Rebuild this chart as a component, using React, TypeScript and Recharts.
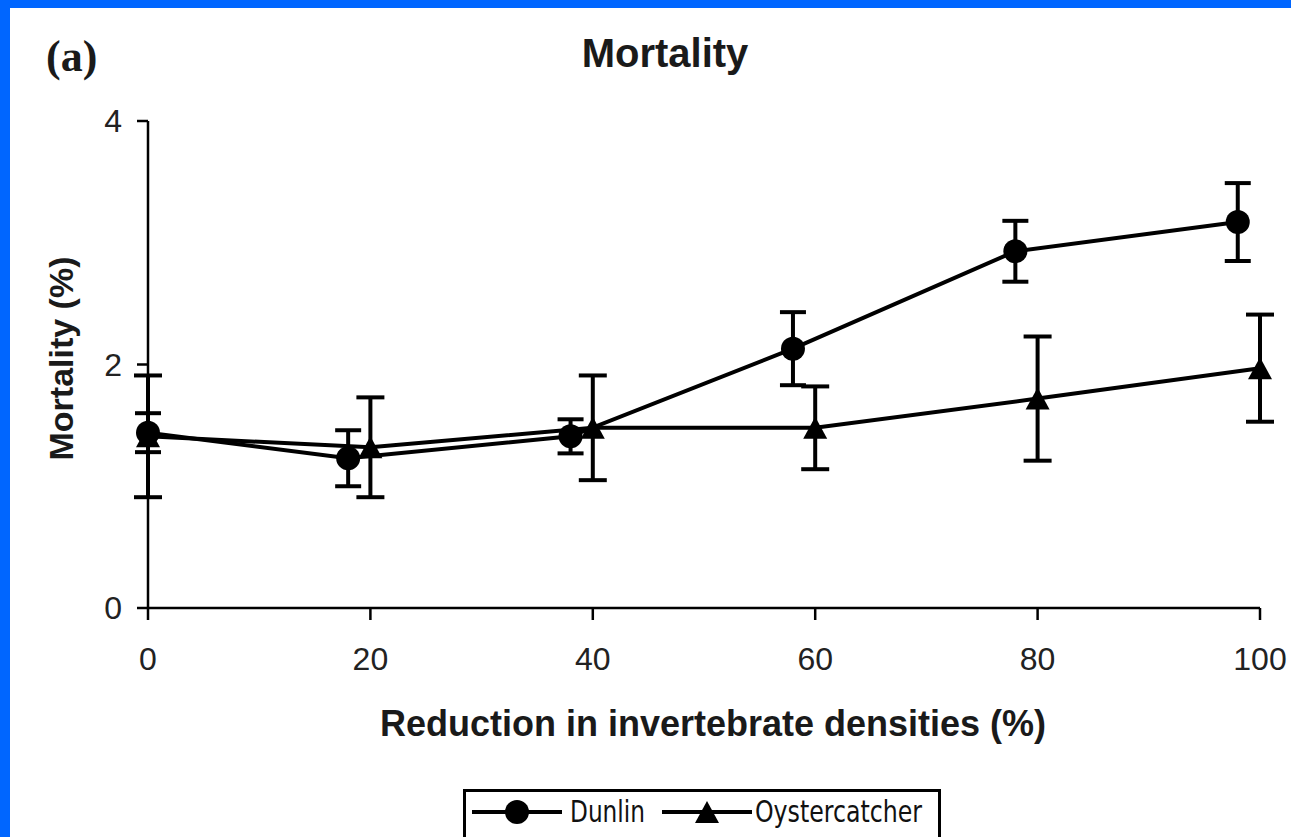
import React from 'react';
import { LineChart, Line, XAxis, YAxis, ErrorBar } from 'recharts';

const xTicks = [0, 20, 40, 60, 80, 100];
const yTicks = [0, 2, 4];

// Dunlin points sit slightly left of the round numbers in the original
const dunlinX = [0, 18, 38, 58, 78, 98];
const dunlinMortality = [1.44, 1.23, 1.41, 2.13, 2.93, 3.17];
const dunlinError = [0.16, 0.23, 0.14, 0.3, 0.25, 0.32];

const oysterX = [0, 20, 40, 60, 80, 100];
const oysterMortality = [1.41, 1.32, 1.48, 1.48, 1.72, 1.97];
const oysterError = [0.5, 0.41, 0.43, 0.34, 0.51, 0.44];

const dunlinData = dunlinX.map((x, i) => ({ x, y: dunlinMortality[i], err: dunlinError[i] }));
const oysterData = oysterX.map((x, i) => ({ x, y: oysterMortality[i], err: oysterError[i] }));

const sans = '"Liberation Sans", Arial, Helvetica, sans-serif';
const narrow = '"Liberation Sans Narrow", "DejaVu Sans Condensed", "Liberation Sans", sans-serif';

const CircleDot = (props: any) => {
  const { cx, cy, index } = props;
  return <circle key={`dun-${index}`} cx={cx} cy={cy} r={12} fill="#000" />;
};

const TriangleDot = (props: any) => {
  const { cx, cy, index } = props;
  return (
    <path
      key={`oys-${index}`}
      d={`M${cx},${cy - 11} L${cx + 12},${cy + 11} L${cx - 12},${cy + 11} Z`}
      fill="#000"
    />
  );
};

const XTitle = ({ viewBox }: any) => (
  <text
    x={viewBox.x + viewBox.width / 2 + 9}
    y={viewBox.y + 128}
    textAnchor="middle"
    fontFamily={sans}
    fontWeight="bold"
    fontSize={36}
    fill="#1a1a1a"
  >
    Reduction in invertebrate densities (%)
  </text>
);

const YTitle = ({ viewBox }: any) => {
  const cx = 73;
  const cy = viewBox.y + viewBox.height / 2 - 6;
  return (
    <text
      x={cx}
      y={cy}
      transform={`rotate(-90, ${cx}, ${cy})`}
      textAnchor="middle"
      fontFamily={sans}
      fontWeight="bold"
      fontSize={34}
      fill="#1a1a1a"
    >
      Mortality (%)
    </text>
  );
};

const App = () => {
  return (
    <div style={{ position: 'absolute', left: 0, top: 0, width: 1291, height: 837, background: '#fff', overflow: 'hidden' }}>
      <LineChart width={1291} height={837} margin={{ top: 121, right: 31, bottom: 0, left: 0 }}>
        <XAxis
          type="number"
          dataKey="x"
          domain={[0, 100]}
          ticks={xTicks}
          interval={0}
          height={229}
          tickSize={12}
          tickMargin={27}
          axisLine={{ stroke: '#000', strokeWidth: 2.5 }}
          tickLine={{ stroke: '#000', strokeWidth: 2.5 }}
          tick={{ fill: '#222', fontSize: 32, fontFamily: sans }}
          label={<XTitle />}
        />
        <YAxis
          type="number"
          domain={[0, 4]}
          ticks={yTicks}
          allowDataOverflow
          width={148}
          tickSize={11}
          tickMargin={15}
          axisLine={{ stroke: '#000', strokeWidth: 2.5 }}
          tickLine={{ stroke: '#000', strokeWidth: 2.5 }}
          tick={{ fill: '#222', fontSize: 32, fontFamily: sans }}
          label={<YTitle />}
        />
        <Line
          data={oysterData}
          dataKey="y"
          name="Oystercatcher"
          type="linear"
          stroke="#000"
          strokeWidth={4}
          dot={TriangleDot}
          activeDot={false}
          isAnimationActive={false}
        >
          <ErrorBar dataKey="err" direction="y" width={14} stroke="#000" strokeWidth={4} isAnimationActive={false} />
        </Line>
        <Line
          data={dunlinData}
          dataKey="y"
          name="Dunlin"
          type="linear"
          stroke="#000"
          strokeWidth={4}
          dot={CircleDot}
          activeDot={false}
          isAnimationActive={false}
        >
          <ErrorBar dataKey="err" direction="y" width={13} stroke="#000" strokeWidth={4} isAnimationActive={false} />
        </Line>
      </LineChart>

      <svg width={1291} height={837} style={{ position: 'absolute', left: 0, top: 0, pointerEvents: 'none' }}>
        <text x={46} y={71} fontFamily='"Liberation Serif", "Times New Roman", serif' fontWeight="bold" fontSize={44} fill="#1a1a1a">
          (a)
        </text>
        <text x={665} y={67} textAnchor="middle" fontFamily={sans} fontWeight="bold" fontSize={40} fill="#1a1a1a">
          Mortality
        </text>

        {/* legend */}
        <rect x={464.5} y={790.5} width={475} height={70} fill="#fff" stroke="#000" strokeWidth={3} />
        <line x1={472} y1={812} x2={562} y2={812} stroke="#000" strokeWidth={4} />
        <circle cx={517} cy={812} r={12} fill="#000" />
        <text x={570} y={822} fontFamily={narrow} fontSize={30} fill="#111" textLength={75} lengthAdjust="spacingAndGlyphs">
          Dunlin
        </text>
        <line x1={662} y1={812} x2={752} y2={812} stroke="#000" strokeWidth={4} />
        <path d="M707,801 L719,823 L695,823 Z" fill="#000" />
        <text x={755} y={822} fontFamily={narrow} fontSize={30} fill="#111" textLength={167} lengthAdjust="spacingAndGlyphs">
          Oystercatcher
        </text>
      </svg>

      <div style={{ position: 'absolute', left: 0, top: 0, width: 10, height: 837, background: '#0066ff' }} />
      <div style={{ position: 'absolute', left: 0, top: 0, width: 1291, height: 8, background: '#0066ff' }} />
    </div>
  );
};

export default App;
